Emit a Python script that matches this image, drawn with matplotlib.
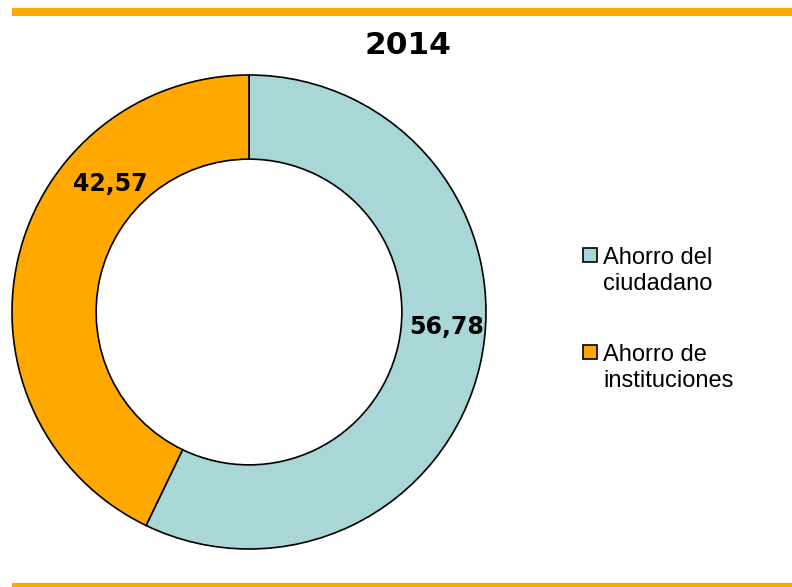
import matplotlib.pyplot as plt
from matplotlib.patches import Rectangle
import numpy as np

W, H = 792, 587

labels = ["Ahorro del\nciudadano", "Ahorro de\ninstituciones"]
values = [56.78, 42.57]
value_labels = ["56,78", "42,57"]
colors = ["#A9D6D6", "#FFA800"]
title = "2014"

fig = plt.figure(figsize=(W / 100, H / 100), dpi=100)

# franjas naranjas arriba y abajo
fig.add_artist(Rectangle((12 / W, 1 - 16 / H), 1 - 12 / W, 8 / H,
                         transform=fig.transFigure, color="#FFA800", lw=0))
fig.add_artist(Rectangle((12 / W, 0), 1 - 12 / W, 4 / H,
                         transform=fig.transFigure, color="#FFA800", lw=0))

# donut
cx, cy, R = 249, 312, 237
ax = fig.add_axes([(cx - R) / W, (H - cy - R) / H, 2 * R / W, 2 * R / H])
wedges, _ = ax.pie(values, colors=colors, startangle=90, counterclock=False,
                   radius=1, wedgeprops=dict(width=0.355, edgecolor="black", linewidth=1.2))
ax.set_xlim(-1, 1)
ax.set_ylim(-1, 1)
ax.set_aspect("equal")
ax.axis("off")

# etiquetas de valor (angulo, radio)
label_pos = [(-4.3, 0.838), (137.4, 0.797)]
for txt, (ang, r) in zip(value_labels, label_pos):
    a = np.deg2rad(ang)
    ax.text(r * np.cos(a), r * np.sin(a), txt, ha="center", va="center",
            fontsize=17, fontweight="bold", family="DejaVu Sans")

fig.text(408 / W, 1 - 46 / H, title, ha="center", va="center",
         fontsize=22.5, fontweight="bold", family="DejaVu Sans")

# leyenda (va='baseline' alinea la ultima linea)
leg_y = [248, 345]
for lab, col, y in zip(labels, colors, leg_y):
    fig.add_artist(Rectangle((583 / W, 1 - (y + 14) / H), 14 / W, 14 / H,
                             transform=fig.transFigure, facecolor=col,
                             edgecolor="black", lw=1.2))
    fig.text(603 / W, 1 - (y + 42) / H, lab, ha="left", va="baseline",
             fontsize=17, family="Liberation Sans", linespacing=1.25)

fig.savefig("out.png", dpi=100)
